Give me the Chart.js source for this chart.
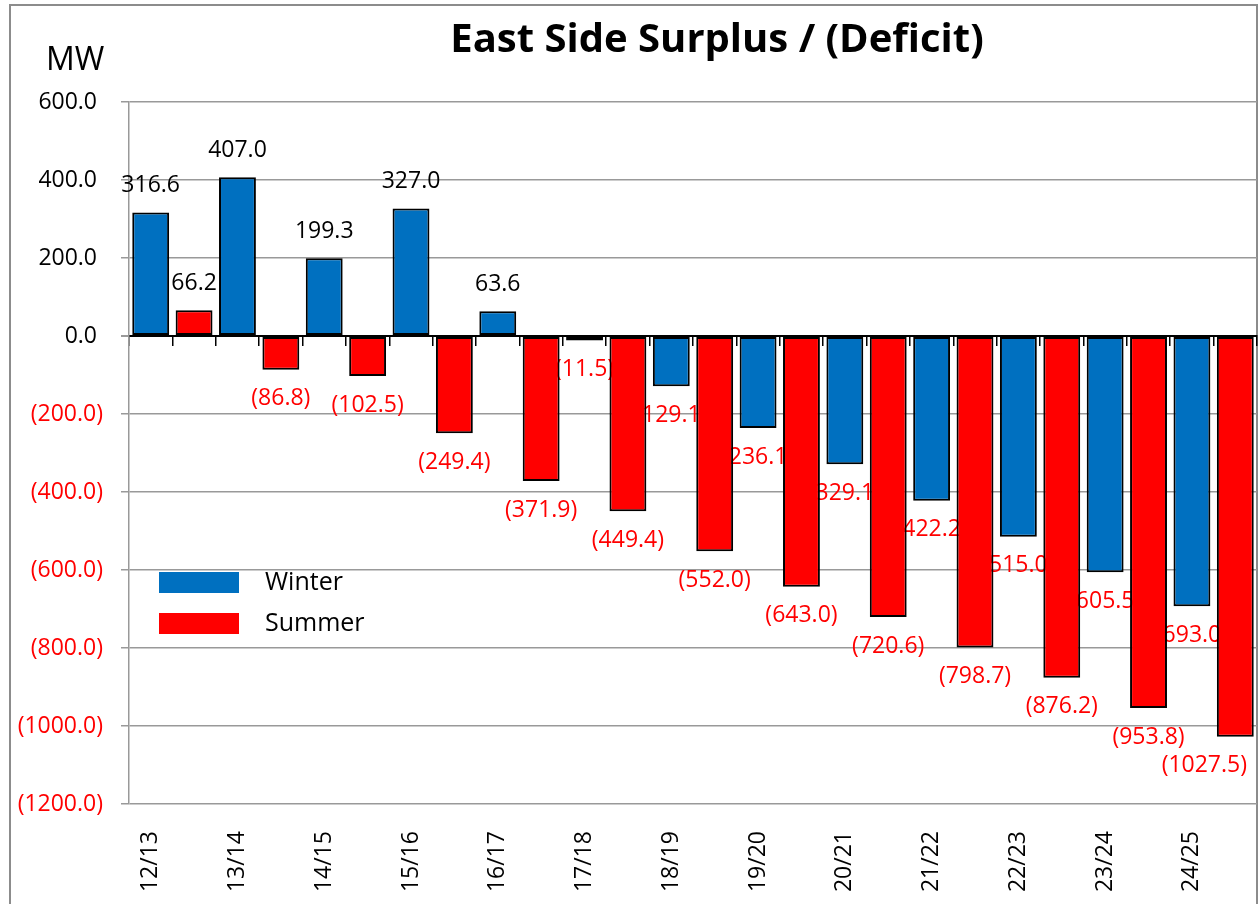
<!DOCTYPE html>
<html>
<head>
<meta charset="utf-8">
<script src="https://cdn.jsdelivr.net/npm/chart.js@4.4.1/dist/chart.umd.min.js"></script>
<style>
  html, body { margin: 0; padding: 0; background: #fff; }
  canvas { display: block; }
</style>
</head>
<body>
<canvas id="chart-surplus" width="1259" height="904"></canvas>
<script>
const seasons = ['12/13', '13/14', '14/15', '15/16', '16/17', '17/18', '18/19',
                 '19/20', '20/21', '21/22', '22/23', '23/24', '24/25'];
const winterValues = [316.6, 407.0, 199.3, 327.0, 63.6, -11.5, -129.1,
                      -236.1, -329.1, -422.2, -515.0, -605.5, -693.0];
const summerValues = [66.2, -86.8, -102.5, -249.4, -371.9, -449.4, -552.0,
                      -643.0, -720.6, -798.7, -876.2, -953.8, -1027.5];
const yMin = -1200;
const yMax = 600;
const yStep = 200;

const FONT = '"Open Sans", "Liberation Sans", sans-serif';

// each season gets two slots: winter, then summer
const slotLabels = seasons.flatMap(s => [s, '']);
const winterSlots = winterValues.flatMap(v => [v, null]);
const summerSlots = summerValues.flatMap(v => [null, v]);

function fmt(v) {
    return v < 0 ? '(' + (-v).toFixed(1) + ')' : v.toFixed(1);
}

function noSidePadding(scale) {
    scale.paddingLeft = 0;
    scale.paddingRight = 0;
}

const frameAndTitle = {
    id: 'frameAndTitle',
    beforeDraw(chart) {
        const ctx = chart.ctx;
        ctx.save();
        ctx.fillStyle = '#fff';
        ctx.fillRect(0, 0, chart.width, chart.height);
        ctx.strokeStyle = '#8c8c8c';
        ctx.lineWidth = 2;
        ctx.strokeRect(10, 5, 1247, 920);
        ctx.restore();
    },
    afterDraw(chart) {
        const ctx = chart.ctx;
        ctx.save();
        ctx.fillStyle = '#000';
        ctx.textBaseline = 'alphabetic';
        ctx.textAlign = 'center';
        ctx.font = 'bold 40px ' + FONT;
        ctx.fillText('East Side Surplus / (Deficit)', 717, 52);
        ctx.textAlign = 'left';
        ctx.font = '32px ' + FONT;
        ctx.fillText('MW', 46, 70);

        // legend inside the plot
        const entries = [
            { ds: chart.data.datasets[0], y: 572 },
            { ds: chart.data.datasets[1], y: 613 }
        ];
        ctx.font = '25px ' + FONT;
        ctx.textBaseline = 'middle';
        entries.forEach(e => {
            ctx.fillStyle = e.ds.backgroundColor;
            ctx.fillRect(159, e.y, 80, 21);
            ctx.fillStyle = '#000';
            ctx.fillText(e.ds.label, 265, e.y + 11);
        });
        ctx.restore();
    }
};

const valueLabels = {
    id: 'valueLabels',
    afterDatasetDraw(chart, args) {
        const ctx = chart.ctx;
        const ds = chart.data.datasets[args.index];
        const right = chart.chartArea.right - 10;
        ctx.save();
        ctx.font = '23px ' + FONT;
        ctx.textAlign = 'center';
        ctx.textBaseline = 'middle';
        args.meta.data.forEach((bar, i) => {
            const v = ds.data[i];
            if (v === null || v === undefined) return;
            const text = fmt(v);
            const w = ctx.measureText(text).width;
            const x = Math.min(bar.x, right - w / 2);
            const y = v < 0 ? bar.y + 29 : bar.y - 27;
            ctx.fillStyle = v < 0 ? '#ff0000' : '#000';
            ctx.fillText(text, x, y);
        });
        ctx.restore();
    }
};

const surplusContext = document.getElementById('chart-surplus');

const chartSurplus = new Chart(surplusContext, {
    type: 'bar',
    data: {
        labels: slotLabels,
        datasets: [{
            label: 'Winter',
            data: winterSlots,
            backgroundColor: '#0070c0',
            borderColor: '#000',
            borderWidth: 2,
            borderSkipped: false,
            order: 2
        }, {
            label: 'Summer',
            data: summerSlots,
            backgroundColor: '#ff0000',
            borderColor: '#000',
            borderWidth: 2,
            borderSkipped: false,
            order: 1
        }]
    },
    options: {
        responsive: false,
        animation: false,
        devicePixelRatio: 1,
        layout: { padding: { top: 102, right: 2, bottom: 0, left: 0 } },
        datasets: {
            bar: { grouped: false, barPercentage: 0.85, categoryPercentage: 1 }
        },
        plugins: {
            legend: { display: false },
            title: { display: false },
            tooltip: { enabled: false }
        },
        scales: {
            x: {
                type: 'category',
                offset: true,
                grid: { display: false },
                border: { display: false },
                ticks: {
                    autoSkip: false,
                    maxRotation: 90,
                    minRotation: 90,
                    padding: 19,
                    color: '#000',
                    font: { family: FONT, size: 23 }
                },
                afterFit(scale) {
                    scale.height = 100;
                    noSidePadding(scale);
                }
            },
            x2: {
                type: 'category',
                labels: slotLabels,
                position: { y: 0 },
                offset: true,
                grid: {
                    offset: true,
                    drawOnChartArea: false,
                    color: '#000',
                    lineWidth: 1.5,
                    tickLength: 9
                },
                border: { color: '#000', width: 2 },
                ticks: { display: false },
                afterFit: noSidePadding
            },
            y: {
                min: yMin,
                max: yMax,
                grid: {
                    color: ctx => ctx.tick && ctx.tick.value === 0 ? '#000' : '#999',
                    tickColor: '#999',
                    lineWidth: ctx => ctx.tick && ctx.tick.value === 0 ? 2 : 1.5,
                    tickLength: 8
                },
                border: { color: '#999', width: 1.5 },
                ticks: {
                    stepSize: yStep,
                    padding: 18,
                    font: { family: FONT, size: 23 },
                    color: ctx => ctx.tick.value < 0 ? '#ff0000' : '#000',
                    callback: v => v < 0 ? fmt(v) : fmt(v) + ' '
                },
                afterFit(scale) { scale.width = 129; }
            }
        }
    },
    plugins: [frameAndTitle, valueLabels]
});
</script>
</body>
</html>
